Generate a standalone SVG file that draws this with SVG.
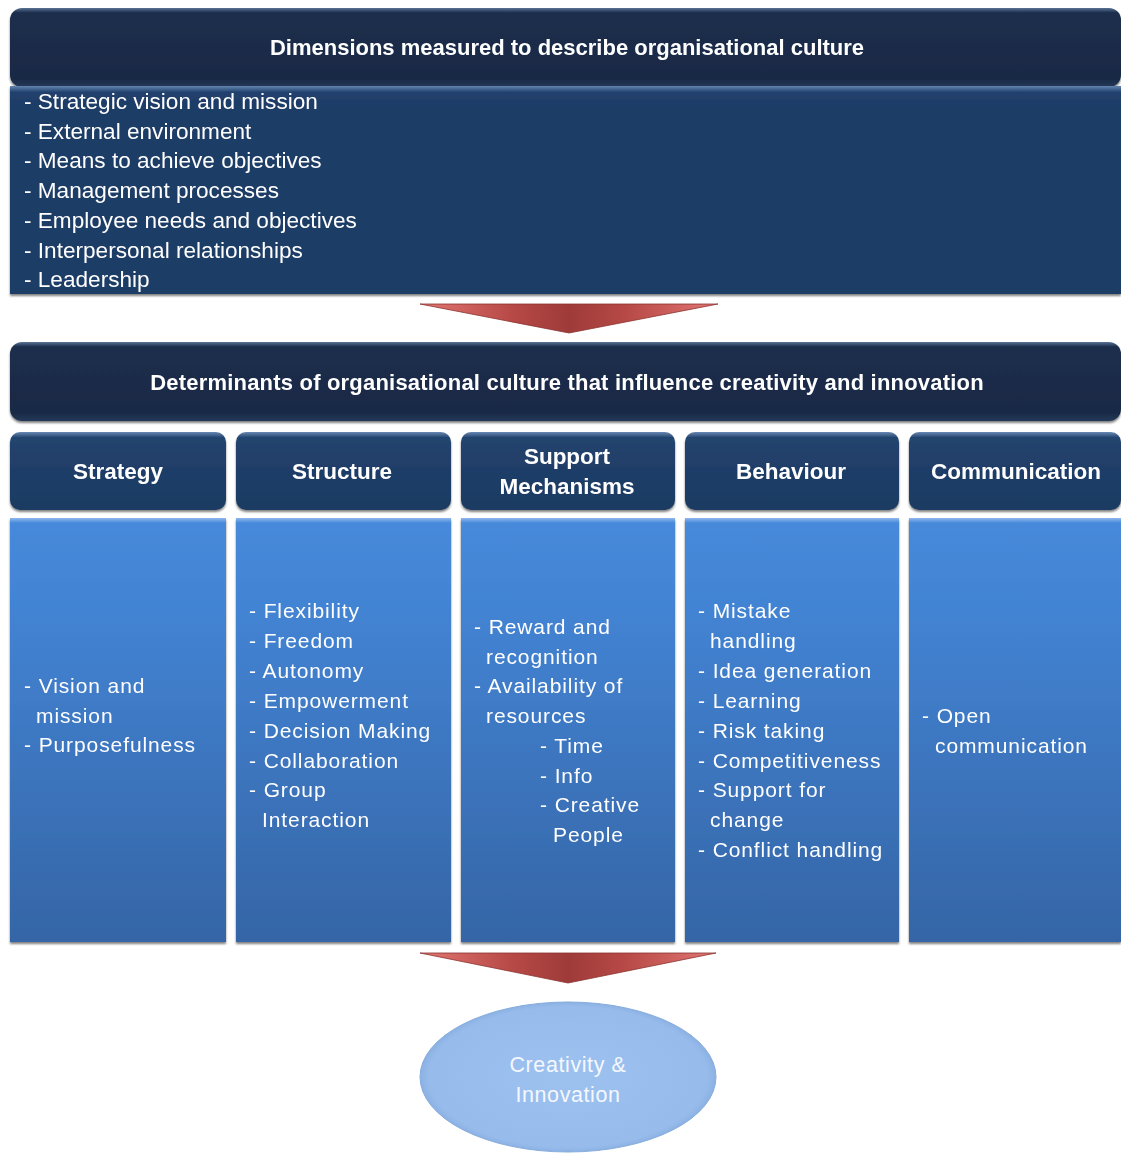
<svg xmlns="http://www.w3.org/2000/svg" width="1121" height="1153" viewBox="0 0 1121 1153">
  <defs>
    <linearGradient id="gDark" x1="0" y1="0" x2="0" y2="1">
      <stop offset="0" stop-color="#5a7396"/>
      <stop offset="0.06" stop-color="#1c2e4c"/>
      <stop offset="0.9" stop-color="#192a45"/>
      <stop offset="1" stop-color="#24395a"/>
    </linearGradient>
    <linearGradient id="gBody" x1="0" y1="0" x2="0" y2="1">
      <stop offset="0" stop-color="#6284b0"/>
      <stop offset="0.03" stop-color="#21416d"/>
      <stop offset="0.1" stop-color="#1e3c66"/>
      <stop offset="1" stop-color="#1e3c65"/>
    </linearGradient>
    <linearGradient id="gHead" x1="0" y1="0" x2="0" y2="1">
      <stop offset="0" stop-color="#6889b5"/>
      <stop offset="0.07" stop-color="#24456f"/>
      <stop offset="0.5" stop-color="#1f3d67"/>
      <stop offset="1" stop-color="#1e3b63"/>
    </linearGradient>
    <linearGradient id="gCol" x1="0" y1="0" x2="0" y2="1">
      <stop offset="0" stop-color="#8fb8ec"/>
      <stop offset="0.012" stop-color="#4689da"/>
      <stop offset="0.2" stop-color="#4384d4"/>
      <stop offset="1" stop-color="#3565a6"/>
    </linearGradient>
    <linearGradient id="gArrow" x1="0" y1="0" x2="1" y2="0">
      <stop offset="0" stop-color="#e27773"/>
      <stop offset="0.3" stop-color="#b84a47"/>
      <stop offset="0.5" stop-color="#9e3b39"/>
      <stop offset="0.7" stop-color="#b84a47"/>
      <stop offset="1" stop-color="#e27773"/>
    </linearGradient>
    <radialGradient id="gOval" cx="0.5" cy="0.5" r="0.55">
      <stop offset="0" stop-color="#9dc1ef"/>
      <stop offset="0.85" stop-color="#97bcec"/>
      <stop offset="1" stop-color="#7aa2d6"/>
    </radialGradient>
    <filter id="soft" x="-5%" y="-5%" width="110%" height="115%">
      <feGaussianBlur in="SourceAlpha" stdDeviation="1.2"/>
      <feOffset dx="0" dy="2" result="b"/>
      <feComponentTransfer><feFuncA type="linear" slope="0.5"/></feComponentTransfer>
      <feMerge><feMergeNode/><feMergeNode in="SourceGraphic"/></feMerge>
    </filter>
  </defs>
  <style>
    .t { font-family: "Liberation Sans", Arial, sans-serif; fill: #ffffff; }
    .title { font-size: 22px; font-weight: bold; }
    .head { font-size: 22.5px; font-weight: bold; }
    .list { font-size: 22.6px; }
    .item { font-size: 21px; letter-spacing: 0.9px; }
    .oval { font-size: 21.5px; letter-spacing: 0.6px; fill: #f4f8fe; }
  </style>

  <rect width="1121" height="1153" fill="#ffffff"/>

  <!-- dimensions block -->
  <g id="dimensions" filter="url(#soft)">
    <rect x="10" y="8" width="1111" height="79" rx="12" fill="url(#gDark)"/>
    <rect x="10" y="86" width="1111" height="208" fill="url(#gBody)"/>
    <text class="t title" x="567" y="55" text-anchor="middle">Dimensions measured to describe organisational culture</text>
    <g class="t list">
      <text x="24" y="109">- Strategic vision and mission</text>
      <text x="24" y="139">- External environment</text>
      <text x="24" y="168">- Means to achieve objectives</text>
      <text x="24" y="198">- Management processes</text>
      <text x="24" y="228">- Employee needs and objectives</text>
      <text x="24" y="258">- Interpersonal relationships</text>
      <text x="24" y="287">- Leadership</text>
    </g>
  </g>

  <!-- connectors -->
  <g id="connectors">
    <polygon points="420,304 718,304 569,333" fill="url(#gArrow)" stroke="#8a3230" stroke-width="0.8"/>
    <polygon points="420,953 716,953 568,983" fill="url(#gArrow)" stroke="#8a3230" stroke-width="0.8"/>
  </g>

  <!-- determinants banner -->
  <g id="determinants" filter="url(#soft)">
    <rect x="10" y="342" width="1111" height="79" rx="12" fill="url(#gDark)"/>
    <text class="t title" x="567" y="390" text-anchor="middle" letter-spacing="0.2">Determinants of organisational culture that influence creativity and innovation</text>
  </g>

  <!-- column headers -->
  <g id="strategy-head" filter="url(#soft)">
    <rect x="10" y="432" width="216" height="78" rx="10" fill="url(#gHead)"/>
    <text class="t head" x="118" y="479" text-anchor="middle">Strategy</text>
  </g>
  <g id="structure-head" filter="url(#soft)">
    <rect x="236" y="432" width="215" height="78" rx="10" fill="url(#gHead)"/>
    <text class="t head" x="342" y="479" text-anchor="middle">Structure</text>
  </g>
  <g id="support-head" filter="url(#soft)">
    <rect x="461" y="432" width="214" height="78" rx="10" fill="url(#gHead)"/>
    <text class="t head" x="567" y="464" text-anchor="middle">Support</text>
    <text class="t head" x="567" y="494" text-anchor="middle">Mechanisms</text>
  </g>
  <g id="behaviour-head" filter="url(#soft)">
    <rect x="685" y="432" width="214" height="78" rx="10" fill="url(#gHead)"/>
    <text class="t head" x="791" y="479" text-anchor="middle">Behaviour</text>
  </g>
  <g id="communication-head" filter="url(#soft)">
    <rect x="909" y="432" width="212" height="78" rx="10" fill="url(#gHead)"/>
    <text class="t head" x="1016" y="479" text-anchor="middle">Communication</text>
  </g>

  <!-- column bodies -->
  <g id="strategy-body" filter="url(#soft)">
    <rect x="10" y="518" width="216" height="424" fill="url(#gCol)"/>
    <g class="t item">
      <text x="24" y="693">- Vision and</text>
      <text x="36" y="723">mission</text>
      <text x="24" y="752">- Purposefulness</text>
    </g>
  </g>
  <g id="structure-body" filter="url(#soft)">
    <rect x="236" y="518" width="215" height="424" fill="url(#gCol)"/>
    <g class="t item">
      <text x="249" y="618">- Flexibility</text>
      <text x="249" y="648">- Freedom</text>
      <text x="249" y="678">- Autonomy</text>
      <text x="249" y="708">- Empowerment</text>
      <text x="249" y="738">- Decision Making</text>
      <text x="249" y="768">- Collaboration</text>
      <text x="249" y="797">- Group</text>
      <text x="262" y="827">Interaction</text>
    </g>
  </g>
  <g id="support-body" filter="url(#soft)">
    <rect x="461" y="518" width="214" height="424" fill="url(#gCol)"/>
    <g class="t item">
      <text x="474" y="634">- Reward and</text>
      <text x="486" y="664">recognition</text>
      <text x="474" y="693">- Availability of</text>
      <text x="486" y="723">resources</text>
      <text x="540" y="753">- Time</text>
      <text x="540" y="783">- Info</text>
      <text x="540" y="812">- Creative</text>
      <text x="553" y="842">People</text>
    </g>
  </g>
  <g id="behaviour-body" filter="url(#soft)">
    <rect x="685" y="518" width="214" height="424" fill="url(#gCol)"/>
    <g class="t item">
      <text x="698" y="618">- Mistake</text>
      <text x="710" y="648">handling</text>
      <text x="698" y="678">- Idea generation</text>
      <text x="698" y="708">- Learning</text>
      <text x="698" y="738">- Risk taking</text>
      <text x="698" y="768">- Competitiveness</text>
      <text x="698" y="797">- Support for</text>
      <text x="710" y="827">change</text>
      <text x="698" y="857">- Conflict handling</text>
    </g>
  </g>
  <g id="communication-body" filter="url(#soft)">
    <rect x="909" y="518" width="212" height="424" fill="url(#gCol)"/>
    <g class="t item">
      <text x="922" y="723">- Open</text>
      <text x="935" y="753">communication</text>
    </g>
  </g>

  <!-- outcome -->
  <g id="outcome">
    <ellipse cx="568" cy="1077" rx="148" ry="75" fill="url(#gOval)" stroke="#86acdd" stroke-width="1"/>
    <text class="t oval" x="568" y="1072" text-anchor="middle">Creativity &amp;</text>
    <text class="t oval" x="568" y="1102" text-anchor="middle">Innovation</text>
  </g>
</svg>
